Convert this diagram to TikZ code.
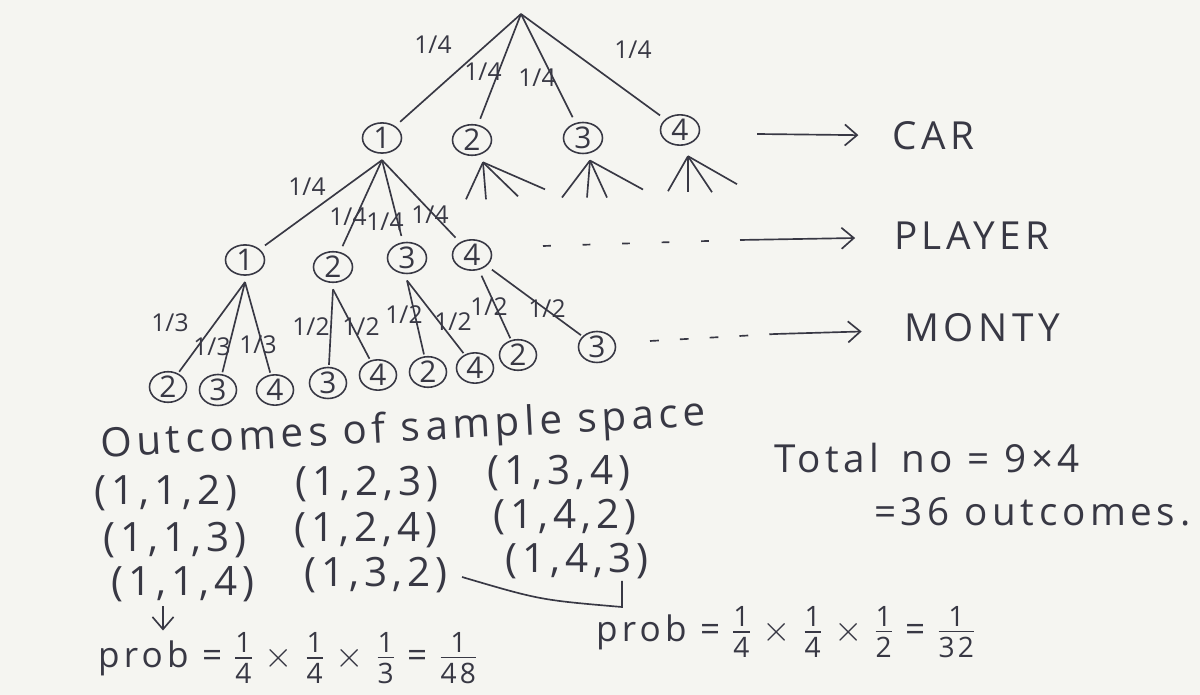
\documentclass[tikz,border=0pt]{standalone}
\usepackage{fontspec}
\setmainfont{Open Sans}
\newfontfamily\handfont[LetterSpace=12]{Open Sans}
\usepackage{amsmath}
\usepackage{xcolor}
\definecolor{Ink}{HTML}{383844}
\definecolor{Sheet}{HTML}{F5F5F1}
\colorlet{ink}{Ink}
\colorlet{sheet}{Sheet}
\usetikzlibrary{arrows.meta,shapes.geometric,calc}
\newcommand{\hf}[2]{\ensuremath{\vcenter{\offinterlineskip\fontsize{16}{16}\selectfont\halign{\hfil##\hfil\cr #1\cr\noalign{\kern2.5pt\hrule height0.7pt\kern2.5pt}#2\cr}}}}

\begin{document}
\begin{tikzpicture}[x=0.02cm,y=-0.02cm,
  every node/.style={text=ink,inner sep=1pt},
  ball/.style={draw=ink,ellipse,line width=0.9pt,minimum width=0.78cm,minimum height=0.58cm,inner sep=0pt,outer sep=4pt,font=\fontsize{17}{17}\selectfont},
  leaf/.style={ball,outer sep=1.5pt,minimum width=0.74cm,minimum height=0.58cm},
  wt/.style={font=\fontsize{14}{14}\selectfont},
  branch/.style={draw=ink,line width=0.95pt},
  lvl/.style={font=\handfont\fontsize{22}{22}\selectfont},
  hand/.style={font=\handfont\fontsize{23}{23}\selectfont},
  tally/.style={font=\handfont\fontsize{22}{22}\selectfont},
  probs/.style={font=\handfont\fontsize{20}{20}\selectfont},
  dots/.style={draw=ink,line width=0.95pt,dash pattern=on 4.5pt off 18pt},
  pointer/.style={draw=ink,line width=0.95pt,-{Straight Barb[length=7pt,width=12pt]}}]
\fill[sheet] (0,0) rectangle (1200,695);
\useasboundingbox (0,0) rectangle (1200,695);

\coordinate (top) at (521,14);
\node[ball] (c1) at (382,138) {1};
\node[ball] (c2) at (472,140) {2};
\node[ball] (c3) at (583,138) {3};
\node[ball] (c4) at (680,130) {4};
\foreach \k in {1,...,4} \draw[branch] (top) -- (c\k);
\node[wt] (w1) at (433,45) {1/4};
\node[wt] (w2) at (483,72) {1/4};
\node[wt] (w3) at (537,78) {1/4};
\node[wt] (w4) at (633,50) {1/4};

\foreach \dx/\dy in {-17/37,3/37,35/34,62/27} \draw[branch] (c2.south) ++(11,0) -- ++(\dx,\dy);
\foreach \dx/\dy in {-28/37,-3/37,17/37,53/29} \draw[branch] (c3.south) ++(7,0) -- ++(\dx,\dy);
\foreach \dx/\dy in {-20/35,0/36,24/36,49/28} \draw[branch] (c4.south) ++(8,4) -- ++(\dx,\dy);

\node[ball] (d1) at (245,260) {1};
\node[ball] (d2) at (333,267) {2};
\node[ball] (d3) at (407,258) {3};
\node[ball] (d4) at (472,255) {4};
\foreach \k in {1,...,4} \draw[branch] (c1.south) -- (d\k);
\node[wt] (v1) at (307,187) {1/4};
\node[wt] (v2) at (348,217) {1/4};
\node[wt] (v3) at (385,222) {1/4};
\node[wt] (v4) at (430,215) {1/4};

\node[leaf] (e1) at (168,387) {2};
\node[leaf] (e2) at (218,390) {3};
\node[leaf] (e3) at (275,390) {4};
\node[leaf] (e4) at (328,383) {3};
\node[leaf] (e5) at (378,375) {4};
\node[leaf] (e6) at (428,372) {2};
\node[leaf] (e7) at (475,368) {4};
\node[leaf] (e8) at (518,355) {2};
\node[leaf] (e9) at (597,347) {3};
\draw[branch] (d1.south) -- (e1);\draw[branch] (d1.south) -- (e2);\draw[branch] (d1.south) -- (e3);
\draw[branch] (d2.south) -- (e4);\draw[branch] (d2.south) -- (e5);
\draw[branch] (d3.south) -- (e6);\draw[branch] (d3.south) -- (e7);
\draw[branch] (d4) -- (e8);\draw[branch] (d4) -- (e9);
\node[wt] (u1) at (170,323) {1/3};
\node[wt] (u2) at (212,347) {1/3};
\node[wt] (u3) at (258,345) {1/3};
\node[wt] (u4) at (311,327) {1/2};
\node[wt] (u5) at (361,327) {1/2};
\node[wt] (u6) at (404,315) {1/2};
\node[wt] (u7) at (453,322) {1/2};
\node[wt] (u8) at (489,307) {1/2};
\node[wt] (u9) at (547,309) {1/2};

\node[lvl,anchor=west] (car) at (890,136) {CAR};
\node[lvl,anchor=west] (player) at (892,236) {PLAYER};
\node[lvl,anchor=west] (monty) at (902,328) {MONTY};
\coordinate (carA) at (757,134);
\coordinate (plD) at (543,246);
\coordinate (plA) at (740,240);
\coordinate (moD) at (650,341);
\coordinate (moA) at (775,334);
\draw[pointer,shorten >=18pt] (carA) -- (car);
\draw[dots] (plD) -- (plA);\draw[pointer,shorten >=21pt] (plA) -- (player);
\draw[dots,dash pattern=on 5pt off 12pt] (moD) -- (moA);\draw[pointer,shorten >=23pt] (moA) -- (monty);

\node[hand,rotate=3] (outc) at (403,431) {Outcomes of sample space};
\node[hand] (o11) at (166,493) {(1,1,2)};
\node[hand] (o12) at (367,484) {(1,2,3)};
\node[hand] (o13) at (559,473) {(1,3,4)};
\node[hand] (o21) at (175,540) {(1,1,3)};
\node[hand] (o22) at (366,530) {(1,2,4)};
\node[hand] (o23) at (565,517) {(1,4,2)};
\node[hand] (o31) at (183,584) {(1,1,4)};
\node[hand] (o32) at (376,575) {(1,3,2)};
\node[hand] (o33) at (577,561) {(1,4,3)};
\node[tally,anchor=west] (tot) at (772,458) {Total\hspace{4pt} no = 9×4};
\node[tally,anchor=west] (tot2) at (872,512) {=36 outcomes.};

\node[probs,anchor=west] (p1) at (96,658) {prob = \hf14 $\times$ \hf14 $\times$ \hf13 = \hf1{48}};
\node[probs,anchor=west] (p2) at (594,632) {prob = \hf14 $\times$ \hf14 $\times$ \hf12 = \hf1{32}};
\coordinate (dnA) at (163,606);
\draw[pointer] (dnA) -- (dnA |- p1.north);
\coordinate (bkA) at (462,577);
\coordinate (bkB) at (622,607);
\draw[branch] (bkA) .. controls (540,600) .. (bkB) -- (bkB |- o33.south);
\end{tikzpicture}
\end{document}
